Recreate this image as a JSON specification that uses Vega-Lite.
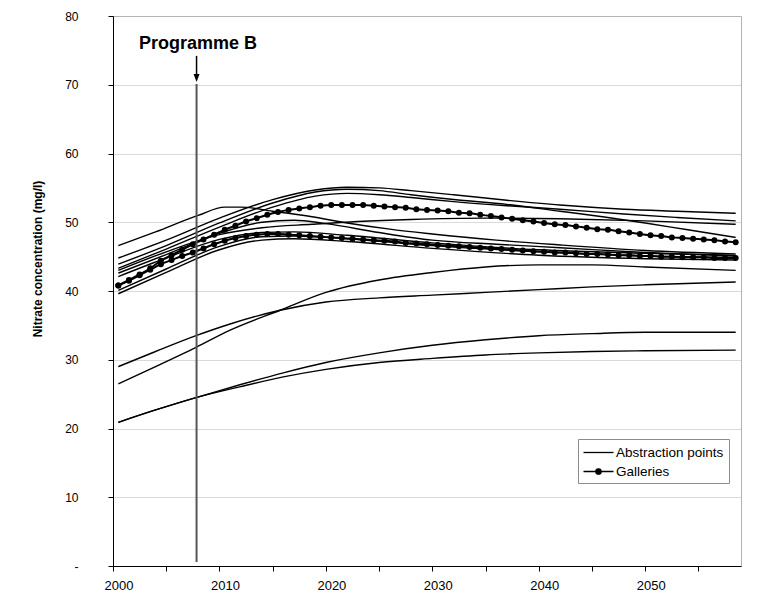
{
  "$schema": "https://vega.github.io/schema/vega-lite/v6.json",
  "width": 628,
  "height": 550,
  "autosize": {"type": "none"},
  "padding": {"left": 113, "top": 16, "right": 24, "bottom": 28},
  "background": "white",
  "config": {
    "font": "Liberation Sans",
    "view": {"stroke": "#b3b3b3", "strokeWidth": 1}
  },
  "datasets": {
    "abs": [
      {"id": "A1", "year": 2000.5, "value": 46.6}, {"id": "A1", "year": 2004, "value": 48.6}, {"id": "A1", "year": 2008, "value": 51.0}, {"id": "A1", "year": 2010.5, "value": 52.2}, {"id": "A1", "year": 2012, "value": 52.2}, {"id": "A1", "year": 2015, "value": 51.6}, {"id": "A1", "year": 2018.7, "value": 50.8}, {"id": "A1", "year": 2022, "value": 49.9}, {"id": "A1", "year": 2026, "value": 49.0}, {"id": "A1", "year": 2030, "value": 48.3}, {"id": "A1", "year": 2036, "value": 47.4}, {"id": "A1", "year": 2042, "value": 46.7}, {"id": "A1", "year": 2050, "value": 45.9}, {"id": "A1", "year": 2058.5, "value": 45.4},
      {"id": "A2", "year": 2000.5, "value": 44.8}, {"id": "A2", "year": 2005, "value": 47.4}, {"id": "A2", "year": 2010, "value": 50.6}, {"id": "A2", "year": 2015, "value": 53.3}, {"id": "A2", "year": 2019, "value": 54.7}, {"id": "A2", "year": 2022, "value": 55.1}, {"id": "A2", "year": 2025, "value": 55.0}, {"id": "A2", "year": 2028, "value": 54.6}, {"id": "A2", "year": 2032, "value": 54.0}, {"id": "A2", "year": 2037, "value": 53.2}, {"id": "A2", "year": 2042, "value": 52.5}, {"id": "A2", "year": 2048, "value": 51.9}, {"id": "A2", "year": 2053, "value": 51.6}, {"id": "A2", "year": 2058.5, "value": 51.3},
      {"id": "A3", "year": 2000.5, "value": 43.9}, {"id": "A3", "year": 2005, "value": 46.6}, {"id": "A3", "year": 2010, "value": 49.9}, {"id": "A3", "year": 2015, "value": 52.8}, {"id": "A3", "year": 2019, "value": 54.4}, {"id": "A3", "year": 2022, "value": 54.8}, {"id": "A3", "year": 2025, "value": 54.6}, {"id": "A3", "year": 2028, "value": 54.0}, {"id": "A3", "year": 2032, "value": 53.3}, {"id": "A3", "year": 2037, "value": 52.6}, {"id": "A3", "year": 2042, "value": 51.6}, {"id": "A3", "year": 2046, "value": 50.8}, {"id": "A3", "year": 2050, "value": 49.9}, {"id": "A3", "year": 2054, "value": 48.9}, {"id": "A3", "year": 2058.5, "value": 47.8},
      {"id": "A4", "year": 2000.5, "value": 43.3}, {"id": "A4", "year": 2005, "value": 46.1}, {"id": "A4", "year": 2010, "value": 49.3}, {"id": "A4", "year": 2015, "value": 52.2}, {"id": "A4", "year": 2019, "value": 53.8}, {"id": "A4", "year": 2022, "value": 54.2}, {"id": "A4", "year": 2025, "value": 54.0}, {"id": "A4", "year": 2028, "value": 53.6}, {"id": "A4", "year": 2032, "value": 53.0}, {"id": "A4", "year": 2037, "value": 52.4}, {"id": "A4", "year": 2042, "value": 51.9}, {"id": "A4", "year": 2048, "value": 51.2}, {"id": "A4", "year": 2053, "value": 50.7}, {"id": "A4", "year": 2058.5, "value": 50.2},
      {"id": "A5", "year": 2000.5, "value": 43.0}, {"id": "A5", "year": 2005, "value": 45.7}, {"id": "A5", "year": 2010, "value": 48.2}, {"id": "A5", "year": 2014, "value": 49.2}, {"id": "A5", "year": 2018.7, "value": 49.7}, {"id": "A5", "year": 2023, "value": 50.1}, {"id": "A5", "year": 2028, "value": 50.4}, {"id": "A5", "year": 2035, "value": 50.6}, {"id": "A5", "year": 2042, "value": 50.5}, {"id": "A5", "year": 2050, "value": 50.2}, {"id": "A5", "year": 2058.5, "value": 49.7},
      {"id": "A6", "year": 2000.5, "value": 42.6}, {"id": "A6", "year": 2005, "value": 45.3}, {"id": "A6", "year": 2010, "value": 48.4}, {"id": "A6", "year": 2014, "value": 50.0}, {"id": "A6", "year": 2017, "value": 50.3}, {"id": "A6", "year": 2020, "value": 49.8}, {"id": "A6", "year": 2025, "value": 48.5}, {"id": "A6", "year": 2030, "value": 47.4}, {"id": "A6", "year": 2036, "value": 46.8}, {"id": "A6", "year": 2042, "value": 46.3}, {"id": "A6", "year": 2050, "value": 45.6}, {"id": "A6", "year": 2058.5, "value": 45.1},
      {"id": "A7", "year": 2000.5, "value": 42.1}, {"id": "A7", "year": 2005, "value": 44.8}, {"id": "A7", "year": 2010, "value": 47.5}, {"id": "A7", "year": 2014, "value": 48.5}, {"id": "A7", "year": 2017, "value": 48.6}, {"id": "A7", "year": 2022, "value": 48.1}, {"id": "A7", "year": 2030, "value": 47.0}, {"id": "A7", "year": 2040, "value": 46.0}, {"id": "A7", "year": 2050, "value": 45.5}, {"id": "A7", "year": 2058.5, "value": 45.2},
      {"id": "A8", "year": 2000.5, "value": 40.1}, {"id": "A8", "year": 2005, "value": 43.2}, {"id": "A8", "year": 2010, "value": 46.5}, {"id": "A8", "year": 2014, "value": 47.9}, {"id": "A8", "year": 2017, "value": 48.0}, {"id": "A8", "year": 2022, "value": 47.6}, {"id": "A8", "year": 2030, "value": 46.6}, {"id": "A8", "year": 2040, "value": 45.7}, {"id": "A8", "year": 2050, "value": 45.1}, {"id": "A8", "year": 2058.5, "value": 44.9},
      {"id": "A9", "year": 2000.5, "value": 39.6}, {"id": "A9", "year": 2005, "value": 42.7}, {"id": "A9", "year": 2010, "value": 46.0}, {"id": "A9", "year": 2014, "value": 47.4}, {"id": "A9", "year": 2017, "value": 47.6}, {"id": "A9", "year": 2022, "value": 47.2}, {"id": "A9", "year": 2030, "value": 46.2}, {"id": "A9", "year": 2040, "value": 45.2}, {"id": "A9", "year": 2050, "value": 44.7}, {"id": "A9", "year": 2058.5, "value": 44.5},
      {"id": "A10", "year": 2000.5, "value": 29.0}, {"id": "A10", "year": 2004, "value": 31.2}, {"id": "A10", "year": 2007.8, "value": 33.5}, {"id": "A10", "year": 2011, "value": 35.2}, {"id": "A10", "year": 2015.7, "value": 37.2}, {"id": "A10", "year": 2020, "value": 38.4}, {"id": "A10", "year": 2025, "value": 39.0}, {"id": "A10", "year": 2030, "value": 39.4}, {"id": "A10", "year": 2035, "value": 39.8}, {"id": "A10", "year": 2040, "value": 40.2}, {"id": "A10", "year": 2045, "value": 40.6}, {"id": "A10", "year": 2050, "value": 40.9}, {"id": "A10", "year": 2058.5, "value": 41.3},
      {"id": "A11", "year": 2000.5, "value": 26.5}, {"id": "A11", "year": 2004, "value": 29.0}, {"id": "A11", "year": 2007.8, "value": 31.8}, {"id": "A11", "year": 2011, "value": 34.3}, {"id": "A11", "year": 2015.7, "value": 37.2}, {"id": "A11", "year": 2020, "value": 39.8}, {"id": "A11", "year": 2025, "value": 41.6}, {"id": "A11", "year": 2030, "value": 42.7}, {"id": "A11", "year": 2035, "value": 43.5}, {"id": "A11", "year": 2040, "value": 43.8}, {"id": "A11", "year": 2045, "value": 43.8}, {"id": "A11", "year": 2050, "value": 43.5}, {"id": "A11", "year": 2058.5, "value": 43.0},
      {"id": "A12", "year": 2000.5, "value": 20.9}, {"id": "A12", "year": 2004, "value": 22.7}, {"id": "A12", "year": 2007.8, "value": 24.5}, {"id": "A12", "year": 2012, "value": 26.4}, {"id": "A12", "year": 2016, "value": 28.1}, {"id": "A12", "year": 2020, "value": 29.6}, {"id": "A12", "year": 2025, "value": 31.0}, {"id": "A12", "year": 2030, "value": 32.1}, {"id": "A12", "year": 2035, "value": 32.9}, {"id": "A12", "year": 2040, "value": 33.5}, {"id": "A12", "year": 2045, "value": 33.8}, {"id": "A12", "year": 2050, "value": 34.0}, {"id": "A12", "year": 2058.5, "value": 34.0},
      {"id": "A13", "year": 2000.5, "value": 20.9}, {"id": "A13", "year": 2004, "value": 22.7}, {"id": "A13", "year": 2007.8, "value": 24.5}, {"id": "A13", "year": 2012, "value": 26.1}, {"id": "A13", "year": 2016, "value": 27.5}, {"id": "A13", "year": 2020, "value": 28.6}, {"id": "A13", "year": 2025, "value": 29.6}, {"id": "A13", "year": 2030, "value": 30.2}, {"id": "A13", "year": 2035, "value": 30.7}, {"id": "A13", "year": 2040, "value": 31.0}, {"id": "A13", "year": 2045, "value": 31.2}, {"id": "A13", "year": 2050, "value": 31.3}, {"id": "A13", "year": 2058.5, "value": 31.4}
    ],
    "gal": [
      {"id": "G1", "year": 2000.5, "value": 40.8}, {"id": "G1", "year": 2001.5, "value": 41.6}, {"id": "G1", "year": 2002.5, "value": 42.4}, {"id": "G1", "year": 2003.5, "value": 43.3}, {"id": "G1", "year": 2004.5, "value": 44.4}, {"id": "G1", "year": 2005.5, "value": 45.2}, {"id": "G1", "year": 2006.5, "value": 46.0}, {"id": "G1", "year": 2007.5, "value": 46.8}, {"id": "G1", "year": 2008.5, "value": 47.5}, {"id": "G1", "year": 2009.5, "value": 48.2},
      {"id": "G1", "year": 2010.5, "value": 48.9}, {"id": "G1", "year": 2011.5, "value": 49.5}, {"id": "G1", "year": 2012.5, "value": 50.1}, {"id": "G1", "year": 2013.5, "value": 50.6}, {"id": "G1", "year": 2014.5, "value": 51.1}, {"id": "G1", "year": 2015.5, "value": 51.5}, {"id": "G1", "year": 2016.5, "value": 51.8}, {"id": "G1", "year": 2017.5, "value": 52.0}, {"id": "G1", "year": 2018.5, "value": 52.2}, {"id": "G1", "year": 2019.5, "value": 52.4},
      {"id": "G1", "year": 2020.5, "value": 52.5}, {"id": "G1", "year": 2021.5, "value": 52.5}, {"id": "G1", "year": 2022.5, "value": 52.5}, {"id": "G1", "year": 2023.5, "value": 52.5}, {"id": "G1", "year": 2024.5, "value": 52.4}, {"id": "G1", "year": 2025.5, "value": 52.3}, {"id": "G1", "year": 2026.5, "value": 52.2}, {"id": "G1", "year": 2027.5, "value": 52.1}, {"id": "G1", "year": 2028.5, "value": 51.9}, {"id": "G1", "year": 2029.5, "value": 51.8},
      {"id": "G1", "year": 2030.5, "value": 51.7}, {"id": "G1", "year": 2031.5, "value": 51.6}, {"id": "G1", "year": 2032.5, "value": 51.4}, {"id": "G1", "year": 2033.5, "value": 51.3}, {"id": "G1", "year": 2034.5, "value": 51.1}, {"id": "G1", "year": 2035.5, "value": 50.9}, {"id": "G1", "year": 2036.5, "value": 50.7}, {"id": "G1", "year": 2037.5, "value": 50.5}, {"id": "G1", "year": 2038.5, "value": 50.3}, {"id": "G1", "year": 2039.5, "value": 50.1},
      {"id": "G1", "year": 2040.5, "value": 49.9}, {"id": "G1", "year": 2041.5, "value": 49.7}, {"id": "G1", "year": 2042.5, "value": 49.6}, {"id": "G1", "year": 2043.5, "value": 49.4}, {"id": "G1", "year": 2044.5, "value": 49.2}, {"id": "G1", "year": 2045.5, "value": 49.0}, {"id": "G1", "year": 2046.5, "value": 48.9}, {"id": "G1", "year": 2047.5, "value": 48.7}, {"id": "G1", "year": 2048.5, "value": 48.5}, {"id": "G1", "year": 2049.5, "value": 48.3},
      {"id": "G1", "year": 2050.5, "value": 48.1}, {"id": "G1", "year": 2051.5, "value": 48.0}, {"id": "G1", "year": 2052.5, "value": 47.8}, {"id": "G1", "year": 2053.5, "value": 47.7}, {"id": "G1", "year": 2054.5, "value": 47.6}, {"id": "G1", "year": 2055.5, "value": 47.5}, {"id": "G1", "year": 2056.5, "value": 47.4}, {"id": "G1", "year": 2057.5, "value": 47.2}, {"id": "G1", "year": 2058.5, "value": 47.1},
      {"id": "G2", "year": 2000.5, "value": 40.8}, {"id": "G2", "year": 2001.5, "value": 41.5}, {"id": "G2", "year": 2002.5, "value": 42.3}, {"id": "G2", "year": 2003.5, "value": 43.1}, {"id": "G2", "year": 2004.5, "value": 43.9}, {"id": "G2", "year": 2005.5, "value": 44.5}, {"id": "G2", "year": 2006.5, "value": 45.1}, {"id": "G2", "year": 2007.5, "value": 45.6}, {"id": "G2", "year": 2008.5, "value": 46.2}, {"id": "G2", "year": 2009.5, "value": 46.8},
      {"id": "G2", "year": 2010.5, "value": 47.3}, {"id": "G2", "year": 2011.5, "value": 47.7}, {"id": "G2", "year": 2012.5, "value": 48.0}, {"id": "G2", "year": 2013.5, "value": 48.2}, {"id": "G2", "year": 2014.5, "value": 48.3}, {"id": "G2", "year": 2015.5, "value": 48.3}, {"id": "G2", "year": 2016.5, "value": 48.2}, {"id": "G2", "year": 2017.5, "value": 48.1}, {"id": "G2", "year": 2018.5, "value": 48.0}, {"id": "G2", "year": 2019.5, "value": 47.9},
      {"id": "G2", "year": 2020.5, "value": 47.8}, {"id": "G2", "year": 2021.5, "value": 47.7}, {"id": "G2", "year": 2022.5, "value": 47.6}, {"id": "G2", "year": 2023.5, "value": 47.5}, {"id": "G2", "year": 2024.5, "value": 47.4}, {"id": "G2", "year": 2025.5, "value": 47.3}, {"id": "G2", "year": 2026.5, "value": 47.2}, {"id": "G2", "year": 2027.5, "value": 47.0}, {"id": "G2", "year": 2028.5, "value": 46.9}, {"id": "G2", "year": 2029.5, "value": 46.8},
      {"id": "G2", "year": 2030.5, "value": 46.7}, {"id": "G2", "year": 2031.5, "value": 46.6}, {"id": "G2", "year": 2032.5, "value": 46.5}, {"id": "G2", "year": 2033.5, "value": 46.4}, {"id": "G2", "year": 2034.5, "value": 46.3}, {"id": "G2", "year": 2035.5, "value": 46.2}, {"id": "G2", "year": 2036.5, "value": 46.1}, {"id": "G2", "year": 2037.5, "value": 46.0}, {"id": "G2", "year": 2038.5, "value": 45.9}, {"id": "G2", "year": 2039.5, "value": 45.8},
      {"id": "G2", "year": 2040.5, "value": 45.7}, {"id": "G2", "year": 2041.5, "value": 45.6}, {"id": "G2", "year": 2042.5, "value": 45.6}, {"id": "G2", "year": 2043.5, "value": 45.5}, {"id": "G2", "year": 2044.5, "value": 45.4}, {"id": "G2", "year": 2045.5, "value": 45.4}, {"id": "G2", "year": 2046.5, "value": 45.3}, {"id": "G2", "year": 2047.5, "value": 45.2}, {"id": "G2", "year": 2048.5, "value": 45.2}, {"id": "G2", "year": 2049.5, "value": 45.1},
      {"id": "G2", "year": 2050.5, "value": 45.1}, {"id": "G2", "year": 2051.5, "value": 45.0}, {"id": "G2", "year": 2052.5, "value": 45.0}, {"id": "G2", "year": 2053.5, "value": 44.9}, {"id": "G2", "year": 2054.5, "value": 44.9}, {"id": "G2", "year": 2055.5, "value": 44.9}, {"id": "G2", "year": 2056.5, "value": 44.8}, {"id": "G2", "year": 2057.5, "value": 44.8}, {"id": "G2", "year": 2058.5, "value": 44.8}
    ],
    "ann": [
      {"kind": "vline", "year": 2007.85, "value": 0.6, "value2": 70.1},
      {"kind": "shaft", "year": 2007.85, "value": 71.5, "value2": 74.2},
      {"kind": "head", "year": 2007.85, "value": 70.98},
      {"kind": "label", "year": 2007.85, "value": 75.15, "label": "Programme B"}
    ]
  },
  "encoding": {
    "x": {
      "field": "year",
      "type": "quantitative",
      "scale": {"domain": [2000, 2059], "nice": false, "zero": false},
      "axis": {
        "title": null,
        "values": [2000, 2005, 2010, 2015, 2020, 2025, 2030, 2035, 2040, 2045, 2050, 2055],
        "labelExpr": "datum.value % 10 === 0 ? datum.label : ''",
        "format": "d",
        "grid": false,
        "tickSize": 5,
        "tickColor": "black",
        "domainColor": "black",
        "labelColor": "black",
        "labelFontSize": 13,
        "labelPadding": 8.5,
        "labelOffset": 5.5,
        "labelFlush": false,
        "labelOverlap": false
      }
    },
    "y": {
      "field": "value",
      "type": "quantitative",
      "scale": {"domain": [0, 80], "nice": false},
      "axis": {
        "title": "Nitrate concentration (mg/l)",
        "values": [0, 10, 20, 30, 40, 50, 60, 70, 80],
        "labelExpr": "datum.value === 0 ? '-' : datum.label",
        "grid": true,
        "gridColor": "#b5b5b5",
        "gridDash": [1, 1],
        "tickSize": 5,
        "tickColor": "black",
        "domainColor": "black",
        "labelColor": "black",
        "labelFontSize": 12,
        "labelPadding": 30,
        "titleFontSize": 12,
        "titleFontWeight": "bold",
        "titleColor": "black",
        "titleX": -75.7,
        "titleY": 242.5,
        "titleBaseline": "middle",
        "encode": {
          "labels": {
            "update": {
              "dx": [{"test": "datum.value === 0", "value": -18}, {"value": 0}]
            }
          }
        }
      }
    }
  },
  "layer": [
    {
      "data": {"name": "abs"},
      "mark": {"type": "line", "interpolate": "monotone", "strokeWidth": 1.4},
      "encoding": {
        "detail": {"field": "id", "type": "nominal"},
        "color": {
          "datum": "Abstraction points",
          "type": "nominal",
          "scale": {"domain": ["Abstraction points", "Galleries"], "range": ["black", "black"]},
          "legend": {
            "title": null,
            "orient": "none",
            "legendX": 465,
            "legendY": 423,
            "symbolType": "stroke",
            "symbolSize": 225,
            "symbolOffset": 7,
            "labelOffset": 9,
            "padding": 5,
            "rowPadding": 4,
            "strokeColor": "#8c8c8c",
            "fillColor": "white",
            "labelFontSize": 13.5,
            "labelColor": "black",
            "labelFont": "Liberation Sans",
            "encode": {
              "symbols": {
                "update": {
                  "shape": {"signal": "datum.value === 'Galleries' ? 'M-2,0H2M-0.36,0A0.36,0.36,0,1,0,0.36,0A0.36,0.36,0,1,0,-0.36,0Z' : 'M-2,0H2'"},
                  "fill": {"signal": "datum.value === 'Galleries' ? 'black' : 'transparent'"},
                  "stroke": {"value": "black"},
                  "strokeWidth": {"value": 1.3}
                }
              }
            }
          }
        }
      }
    },
    {
      "data": {"name": "gal"},
      "mark": {"type": "line", "interpolate": "monotone", "strokeWidth": 2},
      "encoding": {
        "detail": {"field": "id", "type": "nominal"},
        "color": {"datum": "Galleries", "type": "nominal"}
      }
    },
    {
      "data": {"name": "gal"},
      "mark": {"type": "point", "shape": "circle", "filled": true, "size": 36, "color": "black", "opacity": 1}
    },
    {
      "data": {"name": "ann"},
      "transform": [{"filter": "datum.kind === 'vline'"}],
      "mark": {"type": "rule", "color": "#555555", "strokeWidth": 2},
      "encoding": {"y2": {"field": "value2"}}
    },
    {
      "data": {"name": "ann"},
      "transform": [{"filter": "datum.kind === 'shaft'"}],
      "mark": {"type": "rule", "color": "black", "strokeWidth": 1.5},
      "encoding": {"y2": {"field": "value2"}}
    },
    {
      "data": {"name": "ann"},
      "transform": [{"filter": "datum.kind === 'head'"}],
      "mark": {"type": "point", "shape": "M0,1L-0.75,-1L0.75,-1Z", "filled": true, "size": 64, "color": "black", "opacity": 1}
    },
    {
      "data": {"name": "ann"},
      "transform": [{"filter": "datum.kind === 'label'"}],
      "mark": {"type": "text", "fontSize": 18, "fontWeight": "bold", "align": "center", "baseline": "alphabetic", "dx": 1.5, "color": "black", "font": "Liberation Sans"},
      "encoding": {"text": {"field": "label"}}
    }
  ]
}
